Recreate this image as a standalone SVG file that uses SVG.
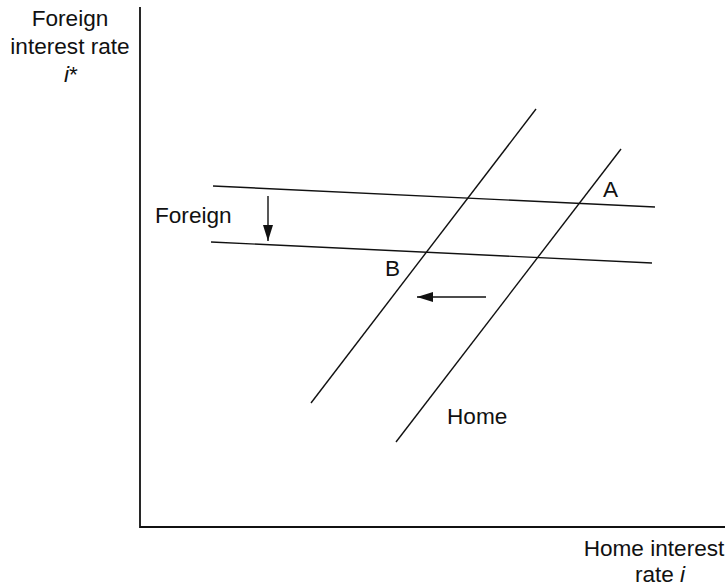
<svg xmlns="http://www.w3.org/2000/svg" width="727" height="587" viewBox="0 0 727 587">
<style>
text{font-family:"Liberation Sans",Arial,sans-serif;font-size:22.6px;fill:#111}
.ln{stroke:#111;stroke-width:1.4;fill:none}
.ax{stroke:#111;stroke-width:1.8;fill:none}
</style>
<defs>
<marker id="ah" viewBox="0 0 16 10" refX="16" refY="5" markerWidth="16" markerHeight="10" markerUnits="userSpaceOnUse" orient="auto">
<path d="M0,0 L16,5 L0,10 Z" fill="#111"/>
</marker>
</defs>
<g id="axes">
<path class="ax" d="M140,7 V527 H725"/>
<text x="70" y="26" text-anchor="middle">Foreign</text>
<text x="70" y="54" text-anchor="middle">interest rate</text>
<text x="71" y="82" text-anchor="middle"><tspan font-style="italic">i</tspan>*</text>
<text x="654" y="556" text-anchor="middle">Home interest</text>
<text x="660" y="582" text-anchor="middle">rate <tspan font-style="italic">i</tspan></text>
</g>
<g id="connectors">
<line class="ln" x1="213" y1="186" x2="655" y2="207"/>
<line class="ln" x1="211" y1="242" x2="652" y2="263"/>
<line class="ln" x1="311" y1="403" x2="536" y2="109"/>
<line class="ln" x1="396" y1="442" x2="621" y2="149"/>
<line class="ln" x1="268" y1="196" x2="268" y2="241" marker-end="url(#ah)"/>
<line class="ln" x1="486" y1="297" x2="417" y2="297" marker-end="url(#ah)"/>
</g>
<g id="labels">
<text x="155" y="223">Foreign</text>
<text x="603" y="197">A</text>
<text x="385" y="276">B</text>
<text x="447" y="424">Home</text>
</g>
</svg>
